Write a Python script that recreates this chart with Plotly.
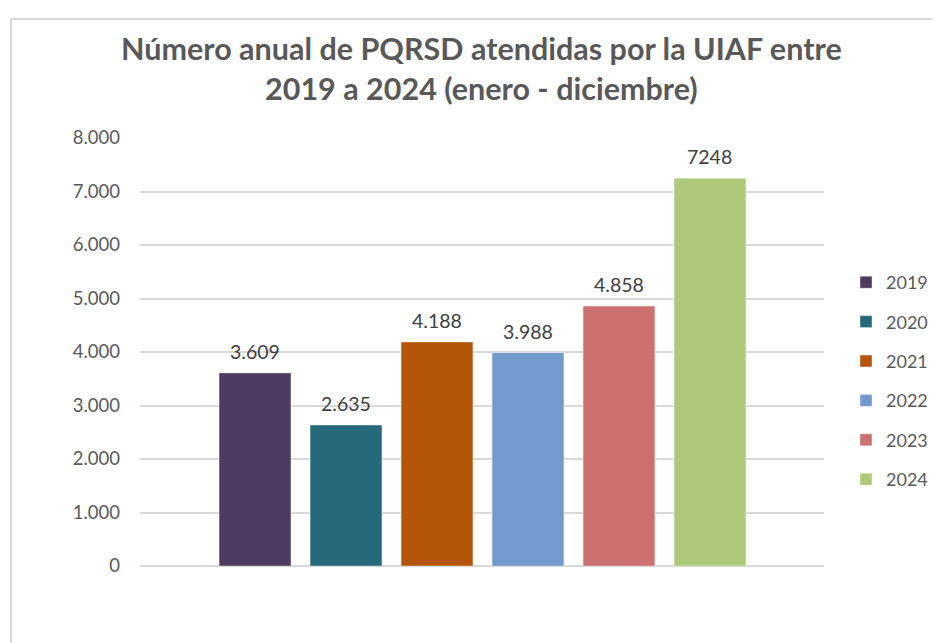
import plotly.graph_objects as go

years = ["2019", "2020", "2021", "2022", "2023", "2024"]
values = [3609, 2635, 4188, 3988, 4858, 7248]
labels = ["3.609", "2.635", "4.188", "3.988", "4.858", "7248"]
colors = ["#4D3B62", "#26697A", "#B55507", "#729ACE", "#CD7170", "#AFC97B"]
title_text = "Número anual de PQRSD atendidas por la UIAF entre<br>2019 a 2024 (enero - diciembre)"

FONT = "Lato"
OFF = 8  # page body margin
PL, PR, PT, PB = 140 - OFF, 824 - OFF, 138 - OFF, 566 - OFF  # plot area in figure px
W, H = 940, 643
PW, PH = PR - PL, PB - PT


def px(xf):
    return (xf - OFF - PL) / PW


def py(yf):
    return (PB - (yf - OFF)) / PH


fig = go.Figure()
for i, (yr, v, c) in enumerate(zip(years, values, colors)):
    fig.add_trace(go.Bar(
        x=[i], y=[v], name=yr, width=0.79,
        marker=dict(color=c, line=dict(color="rgba(255,255,255,0.4)", width=1)),
        legendgroup=yr, hoverinfo="y",
    ))

annotations = []
for i, (v, t) in enumerate(zip(values, labels)):
    annotations.append(dict(x=i, y=v, xref="x", yref="y", text=t, showarrow=False,
                            yanchor="bottom", yshift=8,
                            font=dict(family=FONT, size=19.5, color="#404040")))
annotations.append(dict(x=px(481), y=py(68), xref="paper", yref="paper",
                        text="<b>" + title_text + "</b>", showarrow=False,
                        xanchor="center", yanchor="middle",
                        font=dict(family=FONT, size=30.5, color="#595959")))

fig.update_layout(
    width=W, height=H,
    margin=dict(l=PL, r=W - PR, t=PT, b=H - PB, autoexpand=False),
    paper_bgcolor="white", plot_bgcolor="white",
    separators=",.",
    barmode="overlay",
    showlegend=True,
    legend=dict(xref="container", x=(846 - OFF) / W, y=py(264), xanchor="left", yanchor="top",
                font=dict(family=FONT, size=18, color="#595959"),
                tracegroupgap=13, itemwidth=30, bgcolor="rgba(0,0,0,0)"),
    xaxis=dict(range=[-1.264, 6.253], showticklabels=False, showgrid=False,
               zeroline=False, showline=False, fixedrange=True),
    yaxis=dict(range=[0, 8000], dtick=1000, tickformat=",d", showgrid=True,
               gridcolor="#D9D9D9", gridwidth=1.5, zeroline=True, zerolinecolor="#D9D9D9",
               zerolinewidth=1.5, showline=False, ticks="", ticklen=0,
               tickfont=dict(family=FONT, size=18.5, color="#595959"), ticklabelstandoff=19),
    annotations=annotations,
    shapes=[dict(type="rect", xref="paper", yref="paper",
                 x0=px(11), x1=px(990),
                 y0=py(700), y1=py(19),
                 line=dict(color="#D9D9D9", width=2), fillcolor="rgba(0,0,0,0)", layer="below")],
)

fig.write_html("out.html")
